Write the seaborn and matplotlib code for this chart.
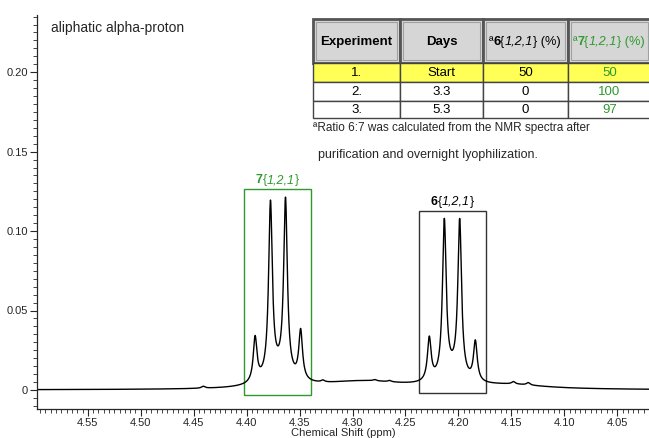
import numpy as np
import pandas as pd
import matplotlib
matplotlib.use("Agg")
import matplotlib.pyplot as plt
import matplotlib.patches as patches
from matplotlib.ticker import MultipleLocator, FuncFormatter
import seaborn as sns


# Peak list (ppm, height, half width)
peak_ppm = [4.3920, 4.3775, 4.3633, 4.3490,
            4.2275, 4.2133, 4.1988, 4.1840,
            4.370, 4.206, 4.290, 4.150,
            4.441, 4.328, 4.279, 4.265, 4.148, 4.134]
peak_height = [0.028, 0.109, 0.110, 0.031,
               0.027, 0.098, 0.098, 0.025,
               0.008, 0.007, 0.005, 0.0025,
               0.0012, 0.0012, 0.0008, 0.0008, 0.0015, 0.0015]
peak_width = [0.0021, 0.0021, 0.0021, 0.0021,
              0.0021, 0.0021, 0.0021, 0.0021,
              0.014, 0.012, 0.05, 0.04,
              0.002, 0.002, 0.002, 0.002, 0.002, 0.002]

# Table contents
col_headers = ["Experiment", "Days", "6", "7"]
experiments = ["1.", "2.", "3."]
days = ["Start", "3.3", "5.3"]
pct_6 = [50, 0, 0]
pct_7 = [50, 100, 97]
footnote = ["ªRatio 6:7 was calculated from the NMR spectra after",
            "purification and overnight lyophilization."]

GREEN = "#2e9a2e"

sns.set_style("ticks")
plt.rcParams["font.family"] = ["Liberation Sans", "DejaVu Sans"]


def rich_text(fig, x, y, pieces, size, color="black", ha="center", va="baseline"):
    # pieces: list of (text, dict of font props); x, y in figure pixels (top-left origin)
    renderer = fig.canvas.get_renderer()
    H = fig.bbox.height
    objs, widths = [], []
    for s, kw in pieces:
        t = fig.text(0, 0, s, fontsize=size, color=color, transform=None, va=va, **kw)
        objs.append(t)
        widths.append(t.get_window_extent(renderer).width)
    total = sum(widths)
    x0 = x - total / 2 if ha == "center" else x
    for t, w in zip(objs, widths):
        t.set_position((x0, H - y))
        x0 += w


def compound(num, suffix=""):
    parts = [(num, {"fontweight": "bold"}), ("{", {}), ("1,2,1", {"fontstyle": "italic"}),
             ("}" + suffix, {})]
    return parts


# build spectrum from the peak list (Lorentzian lines)
ppm = np.linspace(4.60, 4.02, 3000)
intensity = np.zeros_like(ppm)
for p, h, w in zip(peak_ppm, peak_height, peak_width):
    intensity += h * w ** 2 / (w ** 2 + (ppm - p) ** 2)
df = pd.DataFrame({"ppm": ppm, "intensity": intensity})

fig = plt.figure(figsize=(6.49, 4.38), dpi=100)
ax = fig.add_axes([37 / 649, 29 / 438, 1 - 37 / 649, (409 - 15) / 438])

sns.lineplot(data=df, x="ppm", y="intensity", color="black", lw=1.0,
             sort=False, estimator=None, ax=ax)

ax.set_xlim(4.598, 4.020)
ax.set_ylim(-0.012, 0.236)
ax.xaxis.set_major_locator(MultipleLocator(0.05))
ax.xaxis.set_minor_locator(MultipleLocator(0.005))
ax.yaxis.set_major_locator(MultipleLocator(0.05))
ax.yaxis.set_minor_locator(MultipleLocator(0.005))
ax.xaxis.set_major_formatter(FuncFormatter(lambda v, _: f"{v:.2f}"))
ax.yaxis.set_major_formatter(FuncFormatter(lambda v, _: "0" if abs(v) < 1e-9 else f"{v:.2f}"))
ax.tick_params(axis="both", which="major", length=5, width=0.8, labelsize=8,
               direction="out", pad=1.5)
ax.tick_params(axis="both", which="minor", length=3, width=0.6, direction="out")
ax.set_xlabel("Chemical Shift (ppm)", fontsize=8, labelpad=0)
ax.set_ylabel("")
for s in ["top", "right"]:
    ax.spines[s].set_visible(False)
ax.spines["left"].set_linewidth(0.9)
ax.spines["bottom"].set_linewidth(0.9)

ax.text(4.585, 0.232, "aliphatic alpha-proton", fontsize=10, va="top", ha="left")

# multiplet boxes
box7 = (4.3393, 4.4024, -0.0031, 0.1264)
box6 = (4.1743, 4.2376, -0.0021, 0.1128)
ax.add_patch(patches.Rectangle((box7[0], box7[2]), box7[1] - box7[0], box7[3] - box7[2],
                               fill=False, ec=GREEN, lw=1.0))
ax.add_patch(patches.Rectangle((box6[0], box6[2]), box6[1] - box6[0], box6[3] - box6[2],
                               fill=False, ec="#333333", lw=1.0))

fig.canvas.draw()
H = fig.bbox.height
for box, num, col in [(box7, "7", GREEN), (box6, "6", "black")]:
    px, py = ax.transData.transform(((box[0] + box[1]) / 2, box[3]))
    rich_text(fig, px, H - py - 6, compound(num), 9, color=col)

# table overlay in pixel coordinates
tab = fig.add_axes([0, 0, 1, 1])
tab.set_xlim(0, 649)
tab.set_ylim(438, 0)
tab.axis("off")

col_x = [313, 400, 483, 568, 651]
row_y = [19, 63, 82, 101, 118]

for c in range(4):
    tab.add_patch(patches.Rectangle((col_x[c], row_y[0]), col_x[c + 1] - col_x[c],
                                    row_y[1] - row_y[0], fc="#d6d6d6", ec="#555555", lw=2))
    tab.add_patch(patches.Rectangle((col_x[c] + 3, row_y[0] + 3), col_x[c + 1] - col_x[c] - 6,
                                    row_y[1] - row_y[0] - 6, fill=False, ec="#a0a0a0", lw=0.8))
    cx = (col_x[c] + col_x[c + 1]) / 2
    cy = (row_y[0] + row_y[1]) / 2 + 4
    if c < 2:
        rich_text(fig, cx, cy, [(col_headers[c], {"fontweight": "bold"})], 9.5)
    else:
        rich_text(fig, cx - 1, cy, [("ª", {})] + compound(col_headers[c], " (%)"), 9.2,
                  color=GREEN if c == 3 else "black")

for r in range(3):
    vals = [experiments[r], days[r], str(pct_6[r]), str(pct_7[r])]
    for c in range(4):
        fc = "#ffff55" if r == 0 else "white"
        tab.add_patch(patches.Rectangle((col_x[c], row_y[r + 1]), col_x[c + 1] - col_x[c],
                                        row_y[r + 2] - row_y[r + 1], fc=fc, ec="#444444", lw=1))
        tab.text((col_x[c] + col_x[c + 1]) / 2, (row_y[r + 1] + row_y[r + 2]) / 2 + 0.5,
                 vals[c], ha="center", va="center", fontsize=9.5,
                 color=GREEN if c == 3 else "black")

tab.text(313, 128, footnote[0], ha="left", va="center", fontsize=8.5)
tab.text(318, 155, footnote[1], ha="left", va="center", fontsize=9.0)

fig.savefig("out.png", dpi=100)
